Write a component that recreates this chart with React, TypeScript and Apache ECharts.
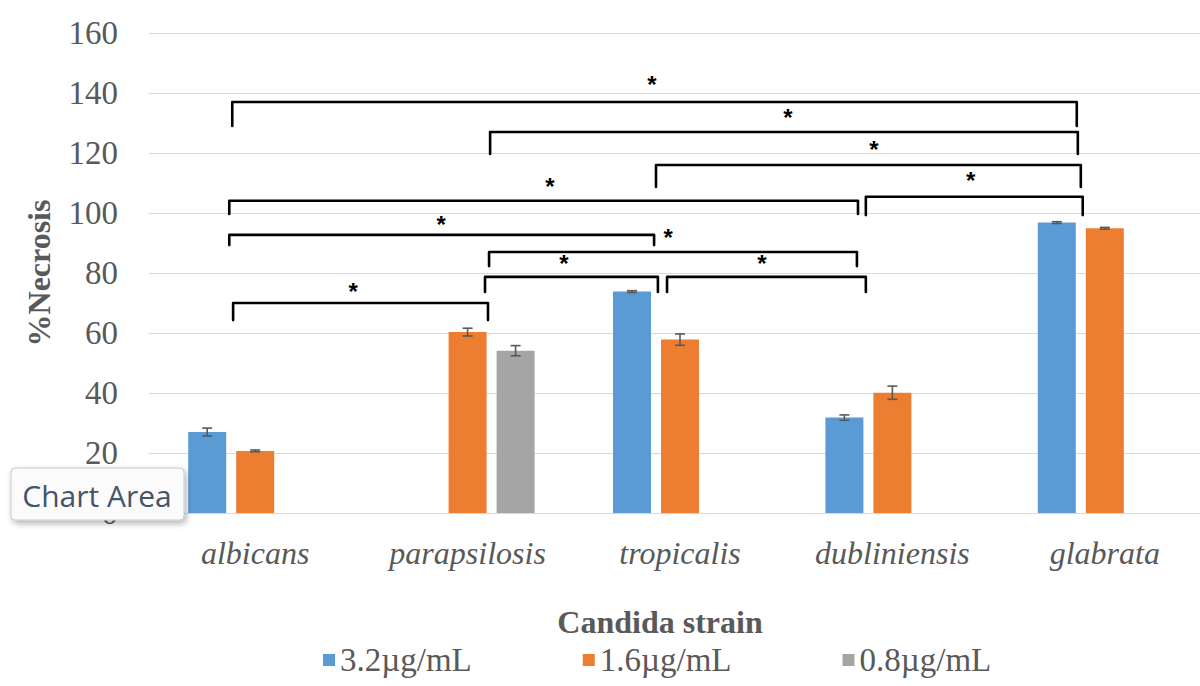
import React, { useEffect, useRef } from "react";
import * as echarts from "echarts";

// Candida strains on the category axis
const CATEGORIES = ["albicans", "parapsilosis", "tropicalis", "dubliniensis", "glabrata"];

// Concentration series names
const SERIES_NAMES = ["3.2µg/mL", "1.6µg/mL", "0.8µg/mL"];

// %Necrosis means and their error (±) per strain
const NECROSIS_32 = [27.0, null, 73.8, 31.8, 96.8];
const ERROR_32 = [1.3, null, 0.3, 0.9, 0.3];
const NECROSIS_16 = [20.7, 60.3, 57.8, 40.1, 94.9];
const ERROR_16 = [0.3, 1.3, 1.9, 2.2, 0.3];
const NECROSIS_08 = [null, 54.1, null, null, null];
const ERROR_08 = [null, 1.7, null, null, null];

// Value axis range
const Y_MIN = 0;
const Y_MAX = 160;
const Y_STEP = 20;

// Significance brackets: [left pos, right pos (category units), bar level, leg end level, star pos, star level]
const SIGNIFICANCE_BRACKETS: number[][] = [
  [-0.108, 3.868, 137.0, 129.0, 1.868, 142.7],
  [1.106, 3.873, 127.0, 119.7, 2.508, 131.7],
  [1.887, 3.887, 116.0, 108.7, 2.913, 121.3],
  [-0.122, 2.838, 104.1, 99.7, 1.388, 108.7],
  [2.875, 3.896, 105.4, 99.3, 3.369, 111.0],
  [-0.122, 1.878, 92.7, 89.3, 0.875, 96.3],
  [1.101, 2.833, 87.0, 82.3, 1.944, 91.7],
  [1.082, 1.896, 78.7, 73.7, 1.454, 83.3],
  [1.939, 2.875, 78.7, 73.7, 2.386, 83.3],
  [-0.104, 1.096, 70.0, 64.3, 0.461, 74.0],
];

const COLORS = ["#5B9BD5", "#ED7D31", "#A5A5A5"];
const SERIF = "'Liberation Serif', 'Times New Roman', serif";
const BAR_WIDTH = 38;
const BAR_GAP_PX = 10;

function errorSeries(values: (number | null)[], errors: (number | null)[], slot: number) {
  const offset = (slot - 1) * (BAR_WIDTH + BAR_GAP_PX);
  return {
    type: "custom",
    z: 5,
    silent: true,
    data: CATEGORIES.map((_, i) => [i, values[i], errors[i]]),
    renderItem: (params: any, api: any) => {
      const v = api.value(1);
      const e = api.value(2);
      if (v == null || isNaN(v) || e == null || isNaN(e)) return null;
      const cat = api.value(0);
      const x = api.coord([cat, v])[0] + offset;
      const yTop = api.coord([cat, v + e])[1];
      const yBot = api.coord([cat, v - e])[1];
      const cap = 5;
      const style = { stroke: "#595959", lineWidth: 1.6 };
      return {
        type: "group",
        children: [
          { type: "line", shape: { x1: x, y1: yTop, x2: x, y2: yBot }, style },
          { type: "line", shape: { x1: x - cap, y1: yTop, x2: x + cap, y2: yTop }, style },
          { type: "line", shape: { x1: x - cap, y1: yBot, x2: x + cap, y2: yBot }, style },
        ],
      };
    },
  };
}

export default function App() {
  const ref = useRef<HTMLDivElement>(null);

  useEffect(() => {
    if (!ref.current) return;
    const chart = echarts.init(ref.current, undefined, { renderer: "svg" });

    const barSeries = [NECROSIS_32, NECROSIS_16, NECROSIS_08].map((vals, k) => ({
      name: SERIES_NAMES[k],
      type: "bar",
      barWidth: BAR_WIDTH,
      barGap: `${(BAR_GAP_PX / BAR_WIDTH) * 100}%`,
      itemStyle: { color: COLORS[k] },
      data: vals,
      z: 2,
    }));

    const bracketSeries = {
      type: "custom",
      z: 10,
      silent: true,
      clip: false,
      data: SIGNIFICANCE_BRACKETS.map((b) => [0, b[2]]),
      renderItem: (params: any, api: any) => {
        const b = SIGNIFICANCE_BRACKETS[params.dataIndex];
        const band = api.size([1, 0])[0];
        const x0 = api.coord([0, 0])[0];
        const px = (p: number) => x0 + p * band;
        const py = (v: number) => api.coord([0, v])[1];
        return {
          type: "group",
          children: [
            {
              type: "polyline",
              shape: {
                points: [
                  [px(b[0]), py(b[3])],
                  [px(b[0]), py(b[2])],
                  [px(b[1]), py(b[2])],
                  [px(b[1]), py(b[3])],
                ],
              },
              style: { stroke: "#000", lineWidth: 2.6, fill: null, lineJoin: "round", lineCap: "round" },
            },
            {
              type: "text",
              x: px(b[4]),
              y: py(b[5]),
              style: {
                text: "*",
                fill: "#000",
                font: "bold 24px 'Liberation Sans', Arial, sans-serif",
                align: "center",
                verticalAlign: "middle",
              },
            },
          ],
        };
      },
    };

    chart.setOption({
      animation: false,
      backgroundColor: "#ffffff",
      grid: { left: 149, right: 0, top: 33, bottom: 173, containLabel: false },
      xAxis: {
        type: "category",
        data: CATEGORIES,
        axisLine: { lineStyle: { color: "#D9D9D9", width: 1 } },
        axisTick: { show: false },
        axisLabel: {
          color: "#595959",
          fontFamily: SERIF,
          fontStyle: "italic",
          fontSize: 32,
          margin: 24,
        },
      },
      yAxis: {
        type: "value",
        min: Y_MIN,
        max: Y_MAX,
        interval: Y_STEP,
        axisLine: { show: false },
        axisTick: { show: false },
        splitLine: { lineStyle: { color: "#D9D9D9", width: 1 } },
        axisLabel: { color: "#595959", fontFamily: SERIF, fontSize: 33, margin: 31 },
      },
      legend: {
        data: SERIES_NAMES,
        left: 323,
        top: 642,
        padding: 0,
        icon: "rect",
        itemWidth: 12,
        itemHeight: 12,
        itemGap: 111,
        textStyle: { color: "#595959", fontFamily: SERIF, fontSize: 33, lineHeight: 36 },
      },
      graphic: [
        {
          type: "text",
          x: 660,
          y: 622,
          style: {
            text: "Candida strain",
            fill: "#595959",
            font: `bold 32px ${SERIF}`,
            align: "center",
            verticalAlign: "middle",
          },
        },
        {
          type: "text",
          x: 39,
          y: 273,
          rotation: Math.PI / 2,
          style: {
            text: "%Necrosis",
            fill: "#595959",
            font: `bold 32px ${SERIF}`,
            align: "center",
            verticalAlign: "middle",
          },
        },
        {
          type: "rect",
          z: 100,
          shape: { x: 11, y: 468, width: 173, height: 52, r: 4 },
          style: {
            fill: "#FBFBFB",
            stroke: "#C9C9C9",
            lineWidth: 1,
            shadowBlur: 6,
            shadowOffsetX: 2,
            shadowOffsetY: 3,
            shadowColor: "rgba(0,0,0,0.3)",
          },
        },
        {
          type: "text",
          z: 101,
          x: 97,
          y: 495,
          style: {
            text: "Chart Area",
            fill: "#44546A",
            font: "30px 'Open Sans', 'Noto Sans', sans-serif",
            align: "center",
            verticalAlign: "middle",
          },
        },
      ],
      series: [
        ...barSeries,
        errorSeries(NECROSIS_32, ERROR_32, 0),
        errorSeries(NECROSIS_16, ERROR_16, 1),
        errorSeries(NECROSIS_08, ERROR_08, 2),
        bracketSeries,
      ],
    });

    return () => chart.dispose();
  }, []);

  // The plot area runs a little past the right edge of the frame, so the chart is
  // drawn slightly wider than the visible box and clipped.
  return (
    <div
      style={{
        position: "absolute",
        left: 0,
        top: 0,
        width: 1200,
        height: 686,
        overflow: "hidden",
        background: "#fff",
      }}
    >
      <div ref={ref} style={{ width: 1211, height: 686 }} />
    </div>
  );
}
